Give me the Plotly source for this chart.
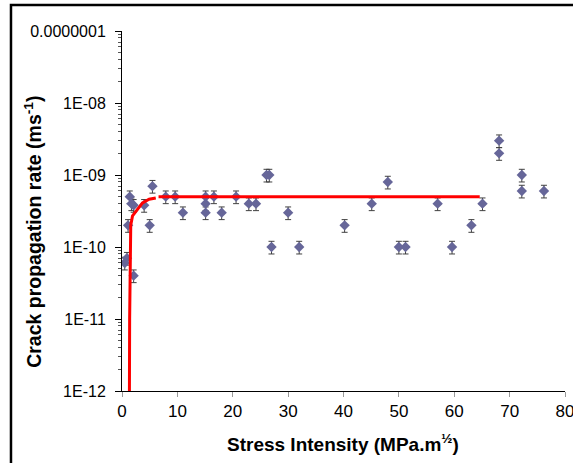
import plotly.graph_objects as go

# Measured data (stress intensity K, crack propagation rate v)
stress_k = [0.5, 0.9, 1.1, 1.4, 1.7, 2.1, 2.1, 4.0, 5.0, 5.5, 7.9, 9.6, 11.0, 15.1, 15.1, 15.1,
            16.6, 18.0, 20.6, 22.9, 24.2, 26.1, 26.6, 27.0, 30.0, 32.0, 40.2, 45.1, 48.0, 50.0,
            51.2, 57.0, 59.6, 63.1, 65.1, 68.1, 68.1, 72.2, 72.2, 76.2]
crack_rate = [6e-11, 7e-11, 2e-10, 5e-10, 4e-10, 3.8e-10, 4e-11, 3.8e-10, 2e-10, 7e-10, 5e-10, 5e-10,
              3e-10, 5e-10, 4e-10, 3e-10, 5e-10, 3e-10, 5e-10, 4e-10, 4e-10, 1e-9, 1e-9, 1e-10,
              3e-10, 1e-10, 2e-10, 4e-10, 8e-10, 1e-10, 1e-10, 4e-10, 1e-10, 2e-10, 4e-10, 3e-9,
              2e-9, 1e-9, 6e-10, 6e-10]
error_percent = 20

# Fitted curve
fit_k = [1.30, 1.34, 1.38, 1.45, 1.50, 1.58, 1.90, 2.70, 3.70, 4.90, 6.10]
fit_v = [8e-13, 1e-12, 1e-11, 6e-11, 1.2e-10, 2e-10, 2.7e-10, 3.3e-10, 4.1e-10, 4.6e-10, 4.8e-10]
plateau_k = [6.6, 64.6]
plateau_v = [5e-10, 5e-10]

x_ticks = [0, 10, 20, 30, 40, 50, 60, 70, 80]
y_tickvals = [1e-12, 1e-11, 1e-10, 1e-9, 1e-8, 1e-7]
y_ticktext = ["1E-12", "1E-11", "1E-10", "1E-09", "1E-08", "0.0000001"]

FONT = "Arial, Liberation Sans, sans-serif"

fig = go.Figure()
fig.add_trace(go.Scatter(
    x=stress_k, y=crack_rate, mode="markers",
    marker=dict(symbol="diamond", size=8, color="#666699"),
    error_y=dict(type="percent", value=error_percent, color="#404040", thickness=1, width=3),
    showlegend=False,
))
fig.add_trace(go.Scatter(
    x=fit_k, y=fit_v, mode="lines", line=dict(color="#FF0000", width=3),
    showlegend=False,
))
fig.add_trace(go.Scatter(
    x=plateau_k, y=plateau_v, mode="lines", line=dict(color="#FF0000", width=3),
    showlegend=False,
))

fig.update_layout(
    width=573, height=463,
    margin=dict(l=122, r=8, t=31, b=72),
    paper_bgcolor="white", plot_bgcolor="white",
    font=dict(family=FONT, color="black"),
    showlegend=False,
)
fig.update_xaxes(
    range=[0, 80], tickvals=x_ticks, showgrid=False, zeroline=False,
    showline=True, linecolor="black", linewidth=1, automargin=False,
    ticks="outside", ticklen=5, tickcolor="#999999",
    tickfont=dict(size=17, family=FONT), ticklabeloverflow="allow",
)
fig.update_yaxes(
    type="log", range=[-12, -7], tickvals=y_tickvals, ticktext=y_ticktext,
    showgrid=False, zeroline=False, showline=True, linecolor="black", linewidth=1,
    automargin=False,
    ticks="outside", ticklen=6, tickcolor="black", ticklabelstandoff=6,
    minor=dict(ticks="outside", ticklen=3, tickcolor="#555555", dtick="D1", showgrid=False),
    tickfont=dict(size=16, family=FONT),
)

fig.add_annotation(
    xref="paper", yref="paper", x=0.498, y=-0.145, xanchor="center", yanchor="middle",
    text="<b>Stress Intensity (MPa.m<sup>½</sup>)</b>", showarrow=False,
    font=dict(size=19, family=FONT, color="black"),
)
fig.add_annotation(
    xref="paper", yref="paper", x=-0.201, y=0.442, xanchor="center", yanchor="middle",
    text="<b>Crack propagation rate (ms<sup>-1</sup>)</b>", showarrow=False, textangle=-90,
    font=dict(size=19.5, family=FONT, color="black"),
)

# outer chart frame (left and top edges visible)
fig.add_shape(
    type="rect", xref="paper", yref="paper",
    x0=-0.2506, x1=1.3, y0=-0.4, y1=1.072,
    line=dict(color="black", width=2.5), layer="above",
)

fig.write_html(
    "out.html",
    config={"displayModeBar": False},
    post_script="document.body.style.margin='0';document.body.style.padding='0';",
)
